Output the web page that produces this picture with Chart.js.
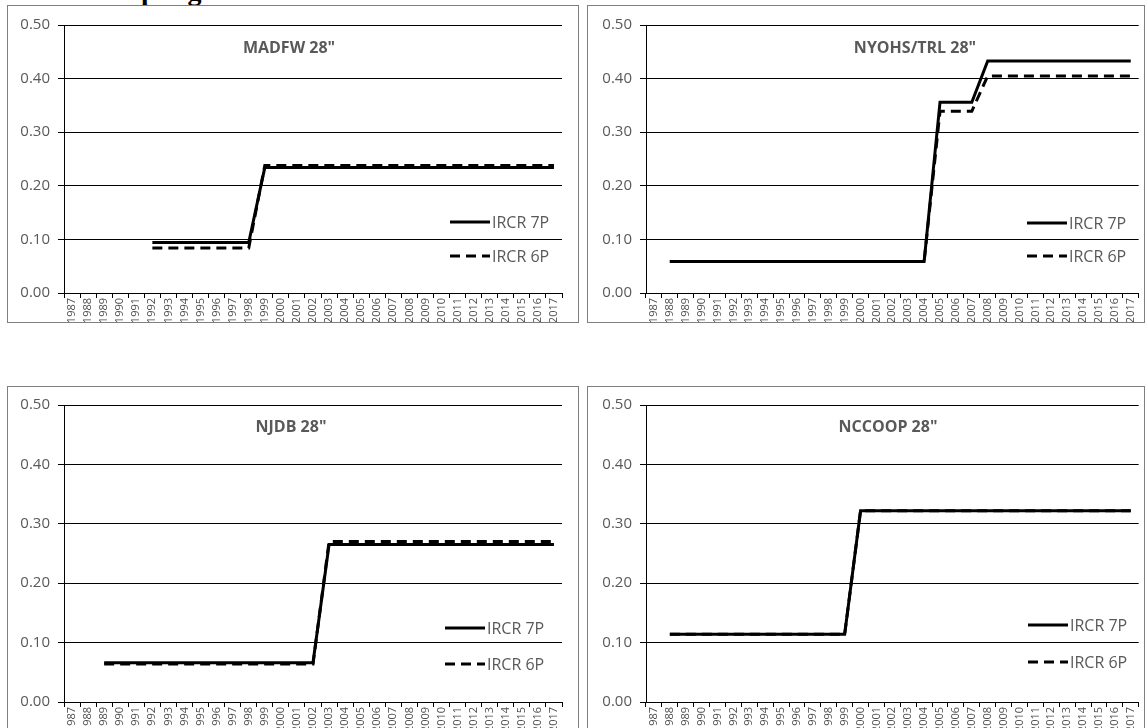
<!DOCTYPE html>
<html>
<head>
<meta charset="utf-8">
<script src="https://cdn.jsdelivr.net/npm/chart.js@4.4.0/dist/chart.umd.min.js"></script>
<style>
body { margin: 0; width: 1145px; height: 728px; overflow: hidden; background: #fff; position: relative; }
.heading { position: absolute; left: 88px; top: -23px; font: bold 28px "Liberation Serif"; line-height: 28px; color: #000; white-space: nowrap; }
.panel { position: absolute; border: 1px solid #7f7f7f; background: #fff; }
.panel canvas { display: block; }
</style>
</head>
<body>
<div class="heading">Sampling</div>
<div class="panel" style="left:7px;top:5px;width:570px;height:316px"><canvas id="c1"></canvas></div>
<div class="panel" style="left:587px;top:5px;width:556px;height:316px"><canvas id="c2"></canvas></div>
<div class="panel" style="left:7px;top:386px;width:570px;height:358px"><canvas id="c3"></canvas></div>
<div class="panel" style="left:587px;top:386px;width:556px;height:358px"><canvas id="c4"></canvas></div>
<script>
var years = ['1987','1988','1989','1990','1991','1992','1993','1994','1995','1996','1997','1998','1999','2000','2001','2002',
  '2003','2004','2005','2006','2007','2008','2009','2010','2011','2012','2013','2014','2015','2016','2017'];
var yTicks = [0, 0.1, 0.2, 0.3, 0.4, 0.5];
var seriesNames = ['IRCR 7P', 'IRCR 6P'];

// MADFW 28"
var madfw7P = [null,null,null,null,null,0.094,0.094,0.094,0.094,0.094,0.094,0.094,0.234,0.234,0.234,0.234,
  0.234,0.234,0.234,0.234,0.234,0.234,0.234,0.234,0.234,0.234,0.234,0.234,0.234,0.234,0.234];
var madfw6P = [null,null,null,null,null,0.084,0.084,0.084,0.084,0.084,0.084,0.084,0.238,0.238,0.238,0.238,
  0.238,0.238,0.238,0.238,0.238,0.238,0.238,0.238,0.238,0.238,0.238,0.238,0.238,0.238,0.238];

// NYOHS/TRL 28"
var nyohs7P = [null,0.059,0.059,0.059,0.059,0.059,0.059,0.059,0.059,0.059,0.059,0.059,0.059,0.059,0.059,0.059,
  0.059,0.059,0.356,0.356,0.356,0.433,0.433,0.433,0.433,0.433,0.433,0.433,0.433,0.433,0.433];
var nyohs6P = [null,0.059,0.059,0.059,0.059,0.059,0.059,0.059,0.059,0.059,0.059,0.059,0.059,0.059,0.059,0.059,
  0.059,0.059,0.339,0.339,0.339,0.405,0.405,0.405,0.405,0.405,0.405,0.405,0.405,0.405,0.405];

// NJDB 28"
var njdb7P = [null,null,0.066,0.066,0.066,0.066,0.066,0.066,0.066,0.066,0.066,0.066,0.066,0.066,0.066,0.066,
  0.265,0.265,0.265,0.265,0.265,0.265,0.265,0.265,0.265,0.265,0.265,0.265,0.265,0.265,0.265];
var njdb6P = [null,null,0.064,0.064,0.064,0.064,0.064,0.064,0.064,0.064,0.064,0.064,0.064,0.064,0.064,0.064,
  0.270,0.270,0.270,0.270,0.270,0.270,0.270,0.270,0.270,0.270,0.270,0.270,0.270,0.270,0.270];

// NCCOOP 28"
var nccoop7P = [null,0.114,0.114,0.114,0.114,0.114,0.114,0.114,0.114,0.114,0.114,0.114,0.114,0.322,0.322,0.322,
  0.322,0.322,0.322,0.322,0.322,0.322,0.322,0.322,0.322,0.322,0.322,0.322,0.322,0.322,0.322];
var nccoop6P = [null,0.114,0.114,0.114,0.114,0.114,0.114,0.114,0.114,0.114,0.114,0.114,0.114,0.322,0.322,0.322,
  0.322,0.322,0.322,0.322,0.322,0.322,0.322,0.322,0.322,0.322,0.322,0.322,0.322,0.322,0.322];

var grey = '#595959';

// title and legend drawn inside the plot, like the Excel original
var panelText = {
  id: 'panelText',
  afterDraw: function(chart, args, opts) {
    var ctx = chart.ctx;
    ctx.save();
    ctx.fillStyle = grey;
    ctx.textBaseline = 'middle';
    ctx.textAlign = 'center';
    ctx.font = 'bold 16px "Open Sans"';
    ctx.fillText(opts.title, opts.titleX, opts.titleY);
    ctx.textAlign = 'left';
    chart.data.datasets.forEach(function(ds, i) {
      var y = opts.legendY[i];
      ctx.beginPath();
      ctx.setLineDash(ds.borderDash || []);
      ctx.lineWidth = ds.borderWidth;
      ctx.strokeStyle = ds.borderColor;
      ctx.moveTo(opts.legendX, y);
      ctx.lineTo(opts.legendX + 40, y);
      ctx.stroke();
      ctx.setLineDash([]);
      ctx.font = '16px "Open Sans"';
      ctx.fillText(ds.label, opts.legendX + 42, y + 1);
    });
    ctx.restore();
  }
};

function makeChart(id, w, h, s7, s6, o) {
  var canvas = document.getElementById(id);
  canvas.width = w;
  canvas.height = h;
  return new Chart(canvas, {
    type: 'line',
    data: {
      labels: years,
      datasets: [{
        label: seriesNames[0],
        data: s7,
        borderColor: '#000',
        borderWidth: 3,
        pointRadius: 0,
        order: 1
      }, {
        label: seriesNames[1],
        data: s6,
        borderColor: '#000',
        borderWidth: 3,
        borderDash: [10, 6],
        pointRadius: 0,
        order: 0
      }]
    },
    options: {
      responsive: false,
      animation: false,
      events: [],
      layout: { padding: { top: o.top, right: o.right, left: 0, bottom: 0 } },
      plugins: {
        legend: { display: false },
        tooltip: { enabled: false },
        panelText: o
      },
      scales: {
        x: {
          offset: true,
          grid: { offset: true, drawOnChartArea: false, tickLength: 5, color: '#000' },
          border: { color: '#000' },
          ticks: { autoSkip: false, minRotation: 90, maxRotation: 90, color: '#4d4d4d', padding: 0,
                   font: { family: 'Open Sans', size: 11 } },
          afterFit: function(axis) { axis.height = o.xh; }
        },
        y: {
          min: 0,
          max: 0.5,
          afterBuildTicks: function(axis) { axis.ticks = yTicks.map(function(v) { return { value: v }; }); },
          grid: { color: '#000', tickLength: 6 },
          border: { color: '#000' },
          ticks: { color: grey, padding: 8, font: { family: 'Open Sans', size: 15 },
                   callback: function(v) { return v.toFixed(2); } },
          afterFit: function(axis) { axis.width = o.yw; }
        }
      }
    },
    plugins: [panelText]
  });
}

makeChart('c1', 570, 316, madfw7P, madfw6P,
  { title: 'MADFW 28"', titleX: 281, titleY: 42, legendX: 442, legendY: [216, 250], top: 19, right: 16, xh: 29, yw: 56 });
makeChart('c2', 556, 316, nyohs7P, nyohs6P,
  { title: 'NYOHS/TRL 28"', titleX: 327, titleY: 42, legendX: 439, legendY: [217, 250], top: 19, right: 4, xh: 29, yw: 58 });
makeChart('c3', 570, 358, njdb7P, njdb6P,
  { title: 'NJDB 28"', titleX: 283, titleY: 40, legendX: 437, legendY: [241, 277], top: 18, right: 16, xh: 43, yw: 56 });
makeChart('c4', 556, 358, nccoop7P, nccoop6P,
  { title: 'NCCOOP 28"', titleX: 300, titleY: 40, legendX: 440, legendY: [238, 275], top: 18, right: 4, xh: 43, yw: 58 });
</script>
</body>
</html>
